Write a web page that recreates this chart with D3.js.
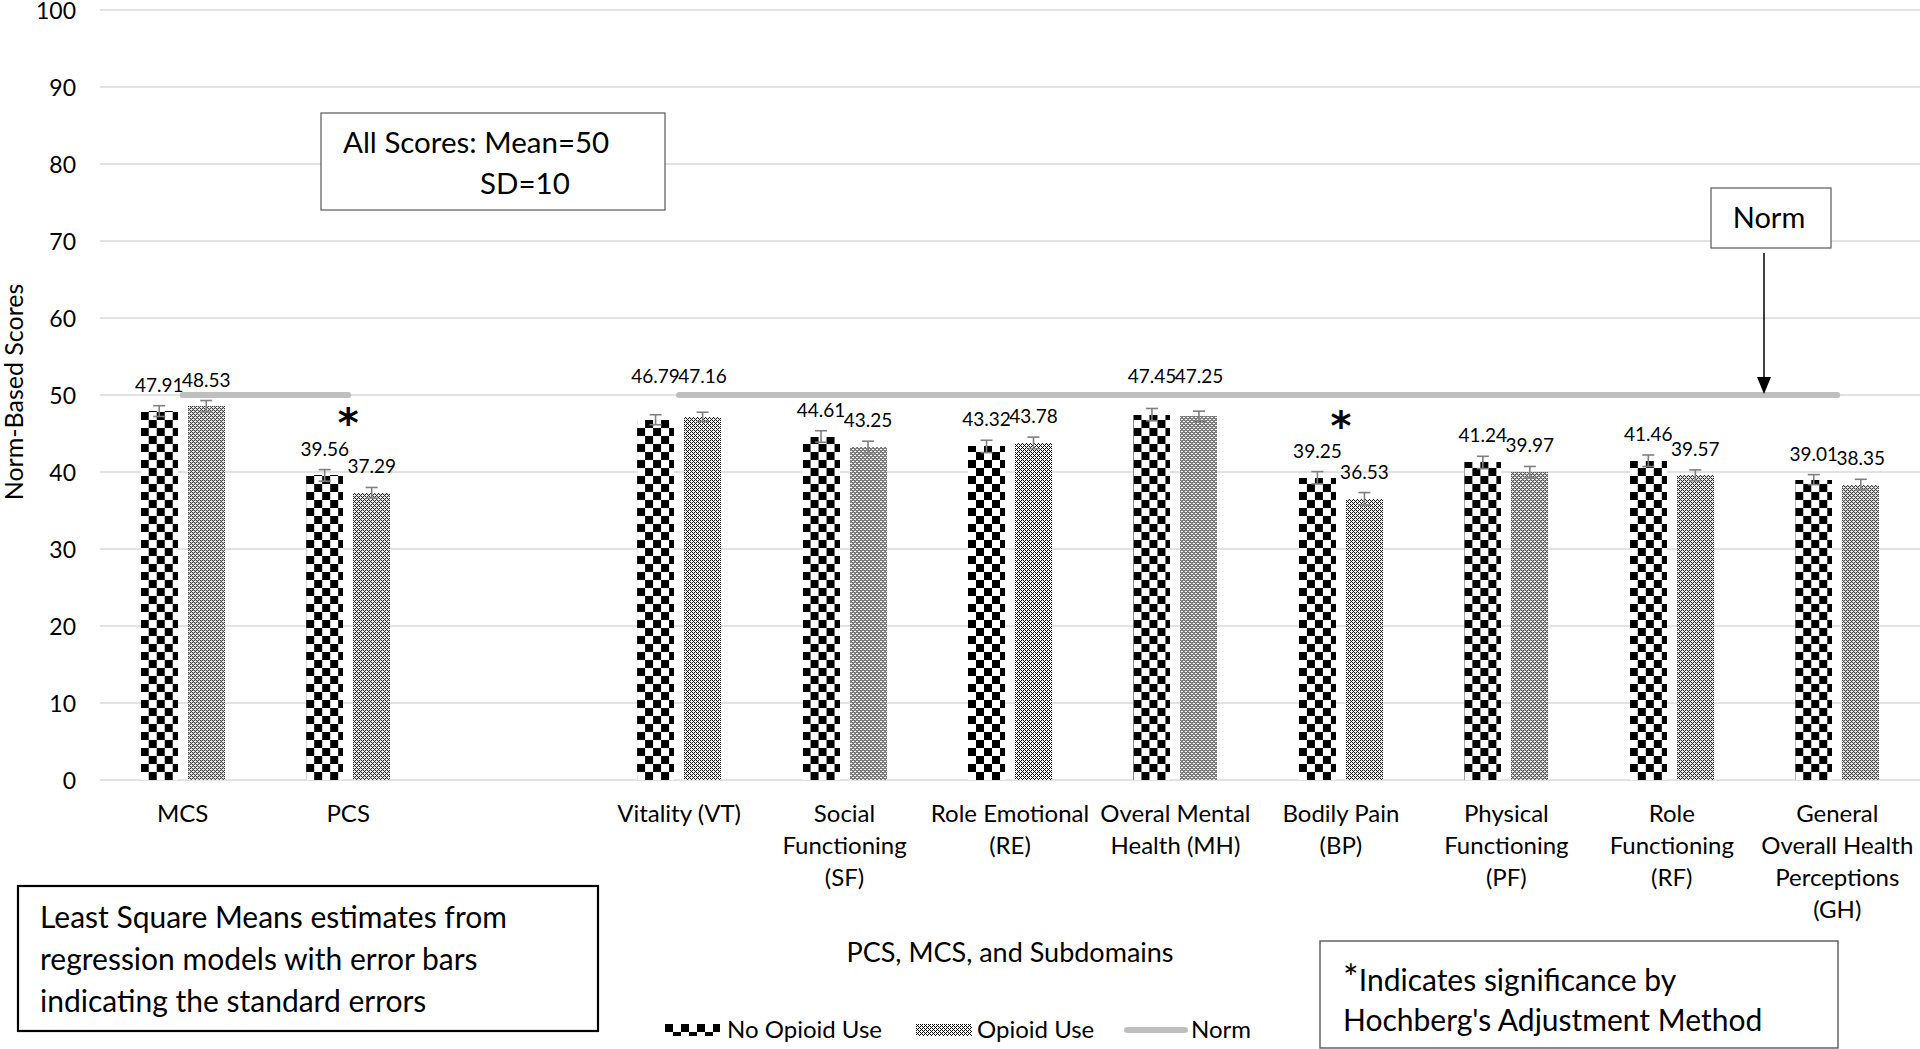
<!DOCTYPE html>
<html><head><meta charset="utf-8">
<script src="https://cdn.jsdelivr.net/npm/d3@7"></script>
<style>
body{margin:0;background:#fff;}
svg{display:block;font-family:Lato,'Open Sans',sans-serif;}
</style>
</head><body>
<svg id="chart" width="1920" height="1049"></svg>
<script>
// ---------- data ----------
const categories = ["MCS","PCS","","Vitality (VT)","Social\nFunctioning\n(SF)","Role Emotional\n(RE)",
  "Overal Mental\nHealth (MH)","Bodily Pain\n(BP)","Physical\nFunctioning\n(PF)","Role\nFunctioning\n(RF)",
  "General\nOverall Health\nPerceptions\n(GH)"];
const seriesNames = ["No Opioid Use","Opioid Use"];
const noOpioid   = [47.91,39.56,null,46.79,44.61,43.32,47.45,39.25,41.24,41.46,39.01];
const opioid     = [48.53,37.29,null,47.16,43.25,43.78,47.25,36.53,39.97,39.57,38.35];
const noOpioidSE = [0.70,0.75,null,0.65,0.75,0.80,0.80,0.80,0.80,0.75,0.65];
const opioidSE   = [0.75,0.70,null,0.60,0.75,0.75,0.65,0.80,0.75,0.70,0.70];
const normValue = 50;
const normSegments = [[0,1],[3,10]];      // category index ranges carrying the norm line
const significant = [1,7];                // PCS, Bodily Pain
const yTicks = [0,10,20,30,40,50,60,70,80,90,100];

// ---------- layout ----------
const svg = d3.select("#chart");
const W = 1920, H = 1049;
svg.append("rect").attr("width",W).attr("height",H).attr("fill","#fff");

const y = d3.scaleLinear().domain([0,100]).range([780,10]);
const x = d3.scaleBand().domain(d3.range(categories.length)).range([100,1920]);
const xs = d3.scaleBand().domain(seriesNames).range([-42,42]).paddingInner(0.2128);

const defs = svg.append("defs");
function checker(id, ox, oy){
  const p = defs.append("pattern").attr("id",id).attr("patternUnits","userSpaceOnUse")
    .attr("width",16).attr("height",16).attr("x",ox).attr("y",oy);
  p.append("rect").attr("width",16).attr("height",16).attr("fill","#fff");
  p.append("rect").attr("x",0).attr("y",0).attr("width",8).attr("height",8).attr("fill","#000");
  p.append("rect").attr("x",8).attr("y",8).attr("width",8).attr("height",8).attr("fill","#000");
}
function lattice(id, ox, oy){
  const p = defs.append("pattern").attr("id",id).attr("patternUnits","userSpaceOnUse")
    .attr("width",4).attr("height",4).attr("x",ox).attr("y",oy);
  p.append("rect").attr("width",4).attr("height",4).attr("fill","#fff");
  [[0,0],[1,1],[2,2],[3,3],[0,2],[2,0]].forEach(([a,b])=>
    p.append("rect").attr("x",a).attr("y",b).attr("width",1).attr("height",1).attr("fill","#000"));
}

// gridlines
svg.append("g").selectAll("line").data(yTicks).join("line")
  .attr("x1",100).attr("x2",1920).attr("y1",d=>y(d)).attr("y2",d=>y(d))
  .attr("stroke","#d9d9d9").attr("stroke-width",1.5);

// y axis labels
svg.append("g").selectAll("text").data(yTicks).join("text")
  .attr("x",76).attr("y",d=>y(d)+9).attr("text-anchor","end")
  .attr("font-size",23).attr("fill","#000").text(d=>d);

// y title
svg.append("text").attr("transform","rotate(-90)").attr("x",-392).attr("y",23)
  .attr("text-anchor","middle").attr("font-size",25).text("Norm-Based Scores");

// bars
const bars = [];
categories.forEach((c,i)=>{
  if(noOpioid[i]!=null) bars.push({i, s:seriesNames[0], v:noOpioid[i], se:noOpioidSE[i]});
  if(opioid[i]!=null) bars.push({i, s:seriesNames[1], v:opioid[i], se:opioidSE[i]});
});
bars.forEach((b,k)=>{
  b.x0 = x(b.i) + x.bandwidth()/2 + xs(b.s);
  b.cx = b.x0 + xs.bandwidth()/2;
  b.pid = "pat"+k;
  if(b.s===seriesNames[0]) checker(b.pid, b.x0, y(0)); else lattice(b.pid, b.x0, y(0));
});

const gb = svg.append("g");
gb.selectAll("rect").data(bars).join("rect")
  .attr("x",d=>d.x0).attr("width",xs.bandwidth())
  .attr("y",d=>y(d.v)).attr("height",d=>y(0)-y(d.v))
  .attr("fill",d=>`url(#${d.pid})`).attr("shape-rendering","crispEdges");

// norm line
const normG = svg.append("g");
normSegments.forEach(([a,b])=>{
  normG.append("line")
    .attr("x1",x(a)+x.bandwidth()/2).attr("x2",x(b)+x.bandwidth()/2)
    .attr("y1",y(normValue)).attr("y2",y(normValue))
    .attr("stroke","#bfbfbf").attr("stroke-width",6).attr("stroke-linecap","round");
});

// error bars
const ge = svg.append("g").attr("stroke","#7f7f7f").attr("stroke-width",1.6);
bars.forEach(d=>{
  const t = y(d.v+d.se), bt = y(d.v-d.se);
  ge.append("line").attr("x1",d.cx).attr("x2",d.cx).attr("y1",t).attr("y2",bt);
  ge.append("line").attr("x1",d.cx-6).attr("x2",d.cx+6).attr("y1",t).attr("y2",t);
  ge.append("line").attr("x1",d.cx-6).attr("x2",d.cx+6).attr("y1",bt).attr("y2",bt);
});

// data labels
const inNorm = i => normSegments.some(([a,b])=>i>=a && i<=b);
const ny = y(normValue);
svg.append("g").selectAll("text").data(bars).join("text")
  .attr("x",d=>d.cx)
  .attr("y",d=>{
    let b = y(d.v+d.se) - 14;
    if(inNorm(d.i) && b > ny-3 && b-13 < ny+3) b = ny - 12;
    return b;
  })
  .attr("text-anchor","middle").attr("font-size",19).attr("fill","#000")
  .text(d=>d3.format(".2f")(d.v));

// significance asterisks
svg.append("g").selectAll("text").data(significant).join("text")
  .attr("x",i=>x(i)+x.bandwidth()/2)
  .attr("y",i=>y(Math.max(noOpioid[i],opioid[i])) - 38)
  .attr("text-anchor","middle").attr("font-size",40).attr("font-weight","bold")
  .attr("font-family","DejaVu Sans").text("*");

// category labels
const gc = svg.append("g");
categories.forEach((c,i)=>{
  if(!c) return;
  c.split("\n").forEach((ln,j)=>{
    gc.append("text").attr("x",x(i)+x.bandwidth()/2).attr("y",822+j*32)
      .attr("text-anchor","middle").attr("font-size",24).attr("fill","#000").text(ln);
  });
});

// x title
svg.append("text").attr("x",1010).attr("y",962).attr("text-anchor","middle")
  .attr("font-size",27).text("PCS, MCS, and Subdomains");

// legend
const lg = svg.append("g");
checker("legA",665,1024); lattice("legB",916,1024);
lg.append("rect").attr("x",665).attr("y",1024).attr("width",55).attr("height",12).attr("fill","url(#legA)");
lg.append("text").attr("x",727).attr("y",1038).attr("font-size",24).text(seriesNames[0]);
lg.append("rect").attr("x",916).attr("y",1024).attr("width",56).attr("height",12).attr("fill","url(#legB)");
lg.append("text").attr("x",977).attr("y",1038).attr("font-size",24).text(seriesNames[1]);
lg.append("line").attr("x1",1127).attr("x2",1185).attr("y1",1030).attr("y2",1030)
  .attr("stroke","#bfbfbf").attr("stroke-width",6).attr("stroke-linecap","round");
lg.append("text").attr("x",1191).attr("y",1038).attr("font-size",24).text("Norm");

// annotation: All Scores box
const a1 = svg.append("g");
a1.append("rect").attr("x",321).attr("y",113).attr("width",344).attr("height",97)
  .attr("fill","#fff").attr("stroke","#595959").attr("stroke-width",1.2);
a1.append("text").attr("x",343).attr("y",153).attr("font-size",29.5).text("All Scores: Mean=50");
a1.append("text").attr("x",480).attr("y",194).attr("font-size",29.5).text("SD=10");

// annotation: Norm callout
const a2 = svg.append("g");
a2.append("rect").attr("x",1711).attr("y",188).attr("width",120).attr("height",60)
  .attr("fill","#fff").attr("stroke","#595959").attr("stroke-width",1.2);
a2.append("text").attr("x",1769).attr("y",228).attr("text-anchor","middle").attr("font-size",29).text("Norm");
a2.append("line").attr("x1",1764).attr("x2",1764).attr("y1",253).attr("y2",378)
  .attr("stroke","#000").attr("stroke-width",1.5);
a2.append("path").attr("d","M1757,377 L1771,377 L1764,394 Z").attr("fill","#000");

// annotation: bottom-left box
const a3 = svg.append("g");
a3.append("rect").attr("x",18).attr("y",886).attr("width",580).attr("height",145)
  .attr("fill","#fff").attr("stroke","#000").attr("stroke-width",2.2);
["Least Square Means estimates from","regression models with error bars","indicating the standard errors"]
  .forEach((t,j)=>a3.append("text").attr("x",40).attr("y",928+j*42).attr("font-size",30).text(t));

// annotation: bottom-right box
const a4 = svg.append("g");
a4.append("rect").attr("x",1320).attr("y",941).attr("width",518).attr("height",107)
  .attr("fill","#fff").attr("stroke","#595959").attr("stroke-width",1.4);
const t1 = a4.append("text").attr("x",1343).attr("y",991).attr("font-size",30);
t1.append("tspan").attr("font-size",37).text("*");
t1.append("tspan").text("Indicates significance by");
a4.append("text").attr("x",1343).attr("y",1031).attr("font-size",30).text("Hochberg's Adjustment Method");
</script>
</body></html>
